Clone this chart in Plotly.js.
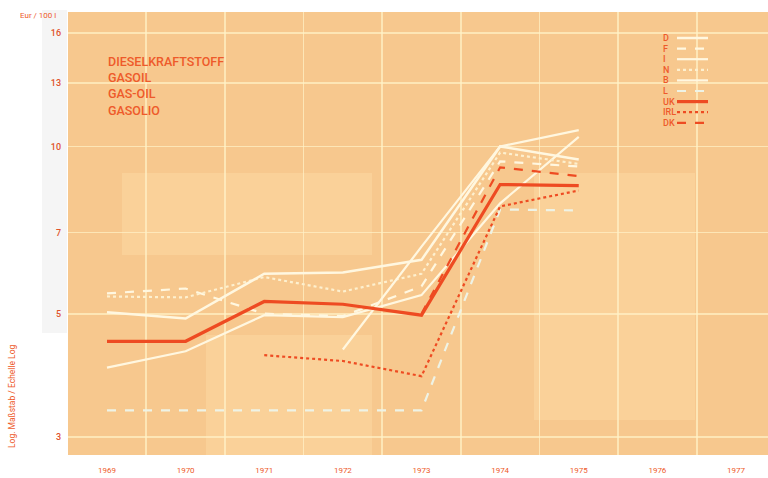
<!DOCTYPE html>
<html>
<head>
<meta charset="utf-8">
<script src="https://cdn.plot.ly/plotly-3.0.1.min.js"></script>
<style>html,body{margin:0;padding:0;background:#fff;}#chart{width:768px;height:478px;}</style>
</head>
<body>
<div id="chart"></div>
<script>
// ---- data (Eur / 100 l, log scale) ----
const years = [1969, 1970, 1971, 1972, 1973, 1974, 1975];
const tickYears = [1969, 1970, 1971, 1972, 1973, 1974, 1975, 1976, 1977];
const tickYearLabels = ["1969", "1970", "1971", "1972", "1973", "1974", "1975", "1976", "1977"];
const gridYears = [1969.5, 1970.5, 1971.5, 1972.5, 1973.5, 1974.5, 1975.5, 1976.5];
const yTickVals = [3, 5, 7, 10, 13, 16];
const yTickText = ["3", "5", "7", "10", "13", "16"];

const seriesNames = ["D", "F", "I", "N", "B", "L", "UK", "IRL", "DK"];
const D   = [5.03, 4.90, 5.90, 5.93, 6.25, 10.0, 9.47];
const F   = [5.44, 5.55, 5.00, 4.95, 5.60, 9.40, 9.20];
const I   = [4.00, 4.28, 4.97, 4.93, 5.40, 7.90, 10.4];
const N   = [5.37, 5.35, 5.82, 5.48, 5.90, 9.75, 9.30];
const B   = [null, null, null, 4.31, 6.60, 10.0, 10.7];
const L   = [3.35, 3.35, 3.35, 3.35, 3.35, 7.70, 7.67];
const UK  = [4.46, 4.46, 5.26, 5.20, 4.97, 8.54, 8.50];
const IRL = [null, null, 4.21, 4.11, 3.86, 7.80, 8.33];
const DK  = [null, null, null, null, 5.00, 9.17, 8.84];

const titleLines = ["DIESELKRAFTSTOFF", "GASOIL", "GAS-OIL", "GASOLIO"];
const unitLabel = "Eur / 100 l";
const scaleLabel = "Log. Maßstab / Echelle Log";

// ---- styles ----
const RED = "#ee4b22";
const TXT = "#ee5a2a";
const CREAM = "#fff7e0";
const styles = {
  D:   {color: CREAM, width: 2.5, dash: "solid"},
  F:   {color: CREAM, width: 2.2, dash: "dash"},
  I:   {color: CREAM, width: 2.2, dash: "solid"},
  N:   {color: "#fdf0cf", width: 2.2, dash: "dot"},
  B:   {color: CREAM, width: 2.2, dash: "solid"},
  L:   {color: "#eef3e6", width: 2.2, dash: "dash"},
  UK:  {color: RED, width: 3.2, dash: "solid"},
  IRL: {color: RED, width: 2.2, dash: "dot"},
  DK:  {color: RED, width: 2.2, dash: "dash"}
};
const dataMap = {D, F, I, N, B, L, UK, IRL, DK};
const drawOrder = ["L", "I", "F", "N", "D", "B", "IRL", "DK", "UK"];

const traces = drawOrder.map(name => ({
  type: "scatter", mode: "lines", name: name,
  x: years, y: dataMap[name],
  line: {color: styles[name].color, width: styles[name].width, dash: styles[name].dash},
  connectgaps: false, hoverinfo: "skip", showlegend: false
}));

// ---- layout ----
const W = 768, H = 478, mL = 68, mR = 0, mT = 12, mB = 23;
const pw = W - mL - mR, ph = H - mT - mB;
const px2x = p => (p - mL) / pw;
const py2y = p => (H - mB - p) / ph;
const FONT = "Roboto, Liberation Sans, Arial, sans-serif";

const annotations = [];
titleLines.forEach((t, i) => annotations.push({
  xref: "paper", yref: "paper", x: px2x(106), y: py2y(61 + i * 16.4),
  xanchor: "left", yanchor: "middle", showarrow: false, text: t,
  font: {family: FONT, size: 12.5, color: TXT, weight: 500}
}));
annotations.push({
  xref: "paper", yref: "paper", x: px2x(38), y: py2y(16),
  xanchor: "center", yanchor: "middle", showarrow: false, text: unitLabel,
  font: {family: FONT, size: 8, color: TXT}
});
annotations.push({
  xref: "paper", yref: "paper", x: px2x(12), y: py2y(396),
  xanchor: "center", yanchor: "middle", showarrow: false, text: scaleLabel, textangle: -90,
  font: {family: FONT, size: 8.5, color: TXT}
});

const PANEL = "rgba(255,226,176,0.35)";
const shapes = [
  {type: "rect", xref: "paper", yref: "paper", x0: px2x(42), x1: px2x(67), y0: py2y(333), y1: py2y(10),
   fillcolor: "#f5f5f5", line: {width: 0}, layer: "below"},
  {type: "rect", xref: "paper", yref: "paper", x0: px2x(122), x1: px2x(372), y0: py2y(255), y1: py2y(173),
   fillcolor: PANEL, line: {width: 0}, layer: "below"},
  {type: "rect", xref: "paper", yref: "paper", x0: px2x(206), x1: px2x(372), y0: py2y(455), y1: py2y(335),
   fillcolor: PANEL, line: {width: 0}, layer: "below"},
  {type: "rect", xref: "paper", yref: "paper", x0: px2x(534), x1: px2x(695), y0: py2y(420), y1: py2y(173),
   fillcolor: PANEL, line: {width: 0}, layer: "below"}
];

// legend (label left, sample line right, as in the original)
seriesNames.forEach((name, i) => {
  const yp = py2y(38 + i * 10.6);
  annotations.push({
    xref: "paper", yref: "paper", x: px2x(661), y: yp, xanchor: "left", yanchor: "middle",
    showarrow: false, text: name,
    font: {family: FONT, size: 9, color: TXT, weight: 500}
  });
  shapes.push({
    type: "line", xref: "paper", yref: "paper", x0: px2x(677), x1: px2x(708), y0: yp, y1: yp,
    line: {color: styles[name].color, width: styles[name].width, dash: styles[name].dash}
  });
});

const GRID = "rgba(255,242,200,0.7)";
const layout = {
  width: W, height: H,
  margin: {l: mL, r: mR, t: mT, b: mB, pad: 0},
  paper_bgcolor: "#ffffff",
  plot_bgcolor: "#f7c88e",
  showlegend: false,
  font: {family: FONT, color: TXT},
  xaxis: {
    range: [1968.504, 1977.407], tickmode: "array", tickvals: tickYears, ticktext: tickYearLabels,
    showgrid: false, zeroline: false, showline: false, ticks: "", ticklabelstandoff: 9,
    tickfont: {size: 8, color: TXT},
    minor: {tickmode: "array", tickvals: gridYears, showgrid: true, gridcolor: GRID, gridwidth: 1.8, ticks: ""}
  },
  yaxis: {
    type: "log", range: [0.4447, 1.2419], tickmode: "array", tickvals: yTickVals, ticktext: yTickText,
    showgrid: true, gridcolor: GRID, gridwidth: 1.8,
    zeroline: false, showline: false, ticks: "", ticklabelstandoff: 6,
    tickfont: {size: 9, color: "#e0532b", weight: 500}
  },
  annotations: annotations,
  shapes: shapes
};

Plotly.newPlot("chart", traces, layout, {staticPlot: true, displayModeBar: false});
</script>
</body>
</html>
